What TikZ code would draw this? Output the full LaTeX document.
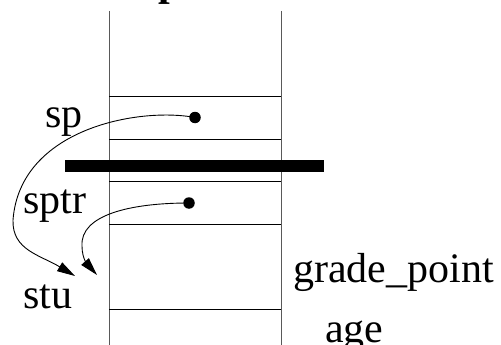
\documentclass[tikz,border=0pt]{standalone}
\usepackage{fontspec}
\setmainfont{Liberation Serif}
\usetikzlibrary{arrows.meta}
\begin{document}
\begin{tikzpicture}[x=1pt,y=-1pt,
  lbl/.style={inner sep=0pt,anchor=base west,font=\fontsize{42}{50}\selectfont},
  wall/.style={line width=1pt,black!65},
  cell/.style={line width=1pt,black},
  ptr/.style={line width=0.9pt,-{Triangle[length=18pt,width=10pt]}},
  dotnode/.style={circle,fill=black,inner sep=0pt,minimum size=11.5pt}]
\useasboundingbox (0,0) rectangle (501,345);
\begin{scope}
\clip (0,0) rectangle (501,345);
\node[lbl,font=\fontsize{42}{50}\selectfont\bfseries] (title) at (158,-4) {p};
\end{scope}
% walls
\coordinate (wl1) at (109,11); \coordinate (wl2) at (109,345);
\coordinate (wr1) at (281,11); \coordinate (wr2) at (281,345);
\draw[wall] (wl1) -- (wl2);
\draw[wall] (wr1) -- (wr2);
% cell lines
\foreach \y/\n in {96.5/a,139/b,181.5/c,224/d,309/e}{
  \coordinate (h\n l) at (109,\y); \coordinate (h\n r) at (281,\y);
  \draw[cell] (h\n l) -- (h\n r);
}
% thick bar
\coordinate (bar1) at (65,166); \coordinate (bar2) at (324,166);
\draw[line width=11.5pt] (bar1) -- (bar2);
% dots
\node[dotnode] (d1) at (195,117.5) {};
\node[dotnode] (d2) at (189,203) {};
% labels
\node[lbl] (sp) at (45,127) {sp};
\node[lbl] (sptr) at (23,213) {sptr};
\node[lbl] (stu) at (23,308) {stu};
\node[lbl] (gp) at (293,282) {grade\_point};
\node[lbl] (age) at (325,342) {age};
% pointer ends
\coordinate (t1) at (75,276);
\coordinate (t2) at (97,275);
\coordinate (m1) at (13,220);
\coordinate (m2) at (82,246);
\draw[ptr] (d1.center) .. controls (140,107) and (20,128) .. (m1)
   .. controls (12,250) and (40,255) .. (t1);
\draw[ptr] (d2.center) .. controls (130,203) and (80,215) .. (m2)
   .. controls (82,260) and (89,266) .. (t2);
\end{tikzpicture}
\end{document}
